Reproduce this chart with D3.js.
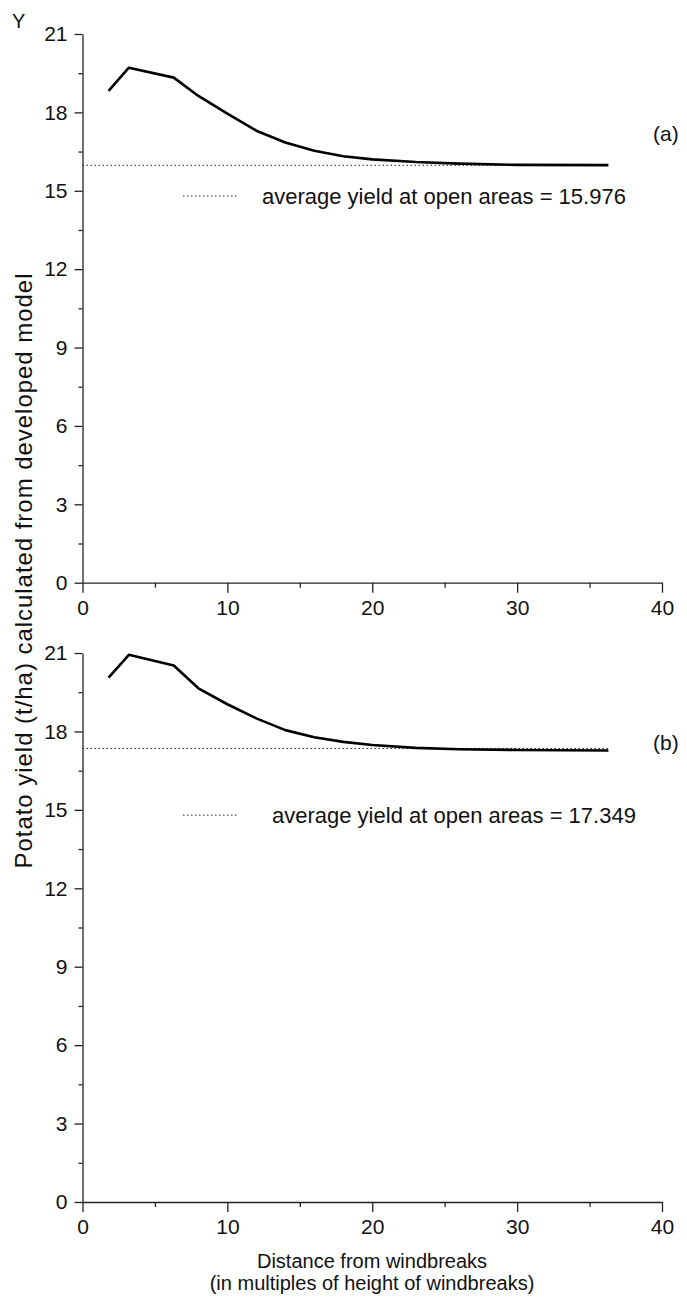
<!DOCTYPE html>
<html>
<head>
<meta charset="utf-8">
<script src="https://cdn.jsdelivr.net/npm/d3@7"></script>
<style>
  body { margin: 0; background: #fff; }
  svg text { font-family: "Liberation Sans", Arial, sans-serif; fill: #111; }
  .axis path, .axis line { stroke: #222; stroke-width: 1.3; }
  .xtick text { font-family: "Liberation Sans Narrow", "Liberation Sans", Arial, sans-serif; }
</style>
</head>
<body>
<div id="chart"></div>
<script>
var svgWidth = 687;
var svgHeight = 1298;

// data
var distance = [1.8, 3.2, 6.3, 8, 10, 12, 14, 16, 18, 20, 23, 26, 30, 36.3];
var yieldA = [18.82, 19.71, 19.33, 18.63, 17.95, 17.3, 16.85, 16.53, 16.32, 16.2, 16.1, 16.04, 15.99, 15.98];
var yieldB = [20.06, 20.93, 20.52, 19.65, 19.04, 18.5, 18.05, 17.78, 17.6, 17.48, 17.37, 17.32, 17.29, 17.27];
var openA = 15.976;
var openB = 17.349;
var yTicks = [0, 3, 6, 9, 12, 15, 18, 21];
var yMinor = [1.5, 4.5, 7.5, 10.5, 13.5, 16.5, 19.5];
var xTicks = [0, 10, 20, 30, 40];
var xMinor = [5, 15, 25, 35];

var svg = d3.select("#chart")
  .append("svg")
  .attr("width", svgWidth)
  .attr("height", svgHeight);

var xScale = d3.scaleLinear()
  .domain([0, 40])
  .range([82.5, 662]);

var panels = [
  { values: yieldA, open: openA, tag: "(a)", tagY: 17.2, range: [582.7, 34], legendX: 262 },
  { values: yieldB, open: openB, tag: "(b)", tagY: 17.56, range: [1202, 653], legendX: 272 }
];

panels.forEach(function(p) {
  var yScale = d3.scaleLinear()
    .domain([0, 21])
    .range(p.range);

  // x axis
  svg.append("g")
    .attr("class", "axis xtick")
    .attr("transform", `translate(0, ${yScale(0)})`)
    .call(d3.axisBottom(xScale).tickValues(xTicks).tickSize(10).tickPadding(4).tickSizeOuter(0))
    .call(g => g.selectAll("text").attr("font-size", "21px").attr("dy", "0.85em"));

  svg.append("g")
    .attr("class", "axis")
    .attr("transform", `translate(0, ${yScale(0)})`)
    .call(d3.axisBottom(xScale).tickValues(xMinor).tickSize(5).tickFormat("").tickSizeOuter(0))
    .call(g => g.select(".domain").remove());

  // y axis
  svg.append("g")
    .attr("class", "axis")
    .attr("transform", `translate(${xScale(0)}, 0)`)
    .call(d3.axisLeft(yScale).tickValues(yTicks).tickSize(8).tickPadding(7).tickSizeOuter(0))
    .call(g => g.selectAll("text").attr("font-size", "21px"));

  svg.append("g")
    .attr("class", "axis")
    .attr("transform", `translate(${xScale(0)}, 0)`)
    .call(d3.axisLeft(yScale).tickValues(yMinor).tickSize(4).tickFormat("").tickSizeOuter(0))
    .call(g => g.select(".domain").remove());

  // open area average (dotted)
  svg.append("line")
    .attr("x1", xScale(0))
    .attr("x2", xScale(d3.max(distance)))
    .attr("y1", yScale(p.open))
    .attr("y2", yScale(p.open))
    .attr("stroke", "#222")
    .attr("stroke-width", 1)
    .attr("stroke-dasharray", "1.5,2.5");

  // model curve
  var line = d3.line()
    .x((d, i) => xScale(distance[i]))
    .y(d => yScale(d));

  svg.append("path")
    .datum(p.values)
    .attr("d", line)
    .attr("fill", "none")
    .attr("stroke", "#000")
    .attr("stroke-width", 2.6)
    .attr("stroke-linejoin", "round");

  // legend
  var ly = yScale(14.8);
  svg.append("line")
    .attr("x1", 183)
    .attr("x2", 238)
    .attr("y1", ly)
    .attr("y2", ly)
    .attr("stroke", "#222")
    .attr("stroke-width", 1)
    .attr("stroke-dasharray", "1.5,2.5");

  svg.append("text")
    .attr("x", p.legendX)
    .attr("y", ly)
    .attr("dy", "0.35em")
    .attr("font-size", "22px")
    .text("average yield at open areas = " + d3.format(".3f")(p.open));

  svg.append("text")
    .attr("x", 653)
    .attr("y", yScale(p.tagY))
    .attr("dy", "0.35em")
    .attr("font-size", "21px")
    .text(p.tag);
});

svg.append("text")
  .attr("x", 12)
  .attr("y", 28)
  .attr("font-size", "20px")
  .text("Y");

svg.append("text")
  .attr("transform", "translate(32, 571) rotate(-90)")
  .attr("text-anchor", "middle")
  .attr("font-size", "24px")
  .attr("textLength", 595)
  .attr("lengthAdjust", "spacing")
  .text("Potato yield (t/ha) calculated from developed model");

svg.append("text")
  .attr("x", 372)
  .attr("y", 1268)
  .attr("text-anchor", "middle")
  .attr("font-size", "20px")
  .text("Distance from windbreaks");

svg.append("text")
  .attr("x", 372)
  .attr("y", 1290)
  .attr("text-anchor", "middle")
  .attr("font-size", "20px")
  .text("(in multiples of height of windbreaks)");
</script>
</body>
</html>
